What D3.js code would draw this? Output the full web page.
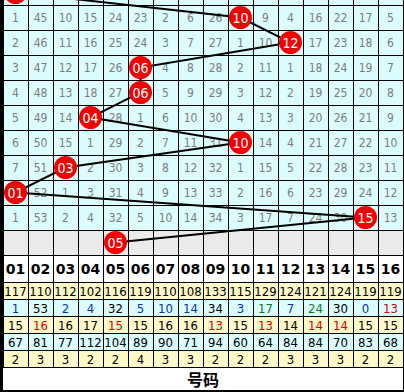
<!DOCTYPE html>
<html>
<head>
<meta charset="utf-8">
<script src="https://cdn.jsdelivr.net/npm/d3@7"></script>
<style>
  body { margin: 0; background: #fff; }
  svg { display: block; }
</style>
</head>
<body>
<script>
var columns = ["01","02","03","04","05","06","07","08","09","10","11","12","13","14","15","16"];

// winning number per draw row (first row is cut off at the top, last one is the gray row)
var draws = [1, 10, 12, 6, 6, 4, 10, 3, 1, 15, 5];

// miss values of the visible draw rows, null where the ball sits
var missRows = [
  [1,45,10,15,24,23,2,6,26,null,9,4,16,22,17,5],
  [2,46,11,16,25,24,3,7,27,1,10,null,17,23,18,6],
  [3,47,12,17,26,null,4,8,28,2,11,1,18,24,19,7],
  [4,48,13,18,27,null,5,9,29,3,12,2,19,25,20,8],
  [5,49,14,null,28,1,6,10,30,4,13,3,20,26,21,9],
  [6,50,15,1,29,2,7,11,31,null,14,4,21,27,22,10],
  [7,51,null,2,30,3,8,12,32,1,15,5,22,28,23,11],
  [null,52,1,3,31,4,9,13,33,2,16,6,23,29,24,12],
  [1,53,2,4,32,5,10,14,34,3,17,7,24,30,null,13]
];

var appearCount = [117,110,112,102,116,119,110,108,133,115,129,124,121,124,119,119];
var currentMiss = [1,53,2,4,32,5,10,14,34,3,17,7,24,30,0,13];
var avgMiss     = [15,16,16,17,15,15,16,16,13,15,13,14,14,14,15,15];
var maxMiss     = [67,81,77,112,104,89,90,71,94,60,64,84,84,70,83,68];
var maxStreak   = [2,3,3,2,2,4,3,3,2,2,2,3,3,3,2,2];

var currentMissTone = ["b","k","b","b","k","b","b","b","k","b","g","b","g","k","b","r"];
var avgMissTone     = ["k","r","k","k","r","k","k","k","r","k","r","k","r","r","k","k"];

var footerLabel = "号码";

var width = 404, height = 392;
var toneColor = {k: "#000", b: "#0a2fc0", g: "#0a7a1a", r: "#d80000"};
var cyan = "#dcfdfd", yellow = "#fff8c8", gray = "#ebebeb";

var svg = d3.select("body").append("svg")
  .attr("width", width)
  .attr("height", height);

var x = d3.scaleBand().domain(columns).range([3, 403]);
var y = d3.scaleBand().domain(d3.range(draws.length)).range([-20, 255]);

var statRows = [
  {values: appearCount, bg: yellow},
  {values: currentMiss, bg: cyan, tone: currentMissTone},
  {values: avgMiss, bg: yellow, tone: avgMissTone},
  {values: maxMiss, bg: cyan},
  {values: maxStreak, bg: yellow}
];
var ys = d3.scaleBand().domain(d3.range(statRows.length)).range([282, 367]);

var cx = function(n) { return x(columns[n - 1]) + x.bandwidth() / 2; };
var cy = function(i) { return y(i) + y.bandwidth() / 2; };

// trend area backgrounds
svg.selectAll(".rowbg")
  .data(draws)
  .enter().append("rect")
  .attr("x", 3)
  .attr("y", function(d, i) { return y(i); })
  .attr("width", 400)
  .attr("height", y.bandwidth())
  .attr("fill", function(d, i) { return i == draws.length - 1 ? gray : cyan; });

// header + footer
svg.append("rect").attr("x", 3).attr("y", 255).attr("width", 400).attr("height", 27).attr("fill", "#fff");
svg.selectAll(".statbg")
  .data(statRows)
  .enter().append("rect")
  .attr("x", 3)
  .attr("y", function(d, i) { return ys(i); })
  .attr("width", 400)
  .attr("height", ys.bandwidth())
  .attr("fill", function(d) { return d.bg; });
svg.append("rect").attr("x", 3).attr("y", 367).attr("width", 400).attr("height", 23).attr("fill", "#fff");

// grid lines
var hLines = d3.range(draws.length + 1).map(function(i) { return i < draws.length ? y(i) : 255; })
  .concat([282], statRows.map(function(d, i) { return ys(i) + ys.bandwidth(); }));
svg.selectAll(".hline")
  .data(hLines)
  .enter().append("line")
  .attr("x1", 3).attr("x2", 404)
  .attr("y1", function(d) { return Math.round(d) + 0.5; })
  .attr("y2", function(d) { return Math.round(d) + 0.5; })
  .attr("stroke", "#000");

svg.selectAll(".vline")
  .data(columns.concat(["end"]))
  .enter().append("line")
  .attr("x1", function(d) { return (d == "end" ? 403 : x(d)) + 0.5; })
  .attr("x2", function(d) { return (d == "end" ? 403 : x(d)) + 0.5; })
  .attr("y1", 0).attr("y2", 367)
  .attr("stroke", "#000");

svg.append("line").attr("x1", 403.5).attr("x2", 403.5).attr("y1", 367).attr("y2", 392).attr("stroke", "#000");
svg.append("rect").attr("x", 0).attr("y", 0).attr("width", 3).attr("height", height).attr("fill", "#000");
svg.append("rect").attr("x", 0).attr("y", 390).attr("width", width).attr("height", 2).attr("fill", "#000");

// miss numbers
missRows.forEach(function(row, r) {
  svg.append("g").selectAll("text")
    .data(row)
    .enter().append("text")
    .attr("x", function(d, i) { return x(columns[i]) + x.bandwidth() / 2; })
    .attr("y", cy(r + 1))
    .attr("dy", ".36em")
    .attr("text-anchor", "middle")
    .style("font", "12px 'DejaVu Sans Condensed', 'DejaVu Sans', sans-serif")
    .attr("fill", "#7c7c7c")
    .text(function(d) { return d == null ? "" : d; });
});

// trend line
var line = d3.line()
  .x(function(d) { return cx(d); })
  .y(function(d, i) { return cy(i); });

svg.append("path")
  .attr("d", line(draws))
  .attr("fill", "none")
  .attr("stroke", "#000")
  .attr("stroke-width", 2);

// balls
var ball = svg.selectAll(".ball")
  .data(draws)
  .enter().append("g")
  .attr("transform", function(d, i) { return "translate(" + cx(d) + "," + cy(i) + ")"; });

ball.append("circle")
  .attr("r", 11.5)
  .attr("fill", "#f00000");

ball.append("text")
  .attr("dy", ".36em")
  .attr("text-anchor", "middle")
  .attr("fill", "#fff")
  .style("font", "14px 'DejaVu Sans Condensed', 'DejaVu Sans', sans-serif")
  .text(function(d) { return d3.format("02d")(d); });

// column header
svg.append("g").selectAll("text")
  .data(columns)
  .enter().append("text")
  .attr("x", function(d) { return x(d) + x.bandwidth() / 2; })
  .attr("y", 269)
  .attr("dy", ".36em")
  .attr("text-anchor", "middle")
  .style("font", "bold 14px 'DejaVu Sans', sans-serif")
  .text(function(d) { return d; });

// stats
statRows.forEach(function(s, r) {
  svg.append("g").selectAll("text")
    .data(s.values)
    .enter().append("text")
    .attr("x", function(d, i) { return x(columns[i]) + x.bandwidth() / 2; })
    .attr("y", ys(r) + ys.bandwidth() / 2 + 0.5)
    .attr("dy", ".36em")
    .attr("text-anchor", "middle")
    .style("font", "13px 'DejaVu Sans Condensed', 'DejaVu Sans', sans-serif")
    .attr("fill", function(d, i) { return s.tone ? toneColor[s.tone[i]] : "#000"; })
    .text(function(d) { return d; });
});

svg.append("text")
  .attr("x", 203)
  .attr("y", 380)
  .attr("dy", ".36em")
  .attr("text-anchor", "middle")
  .style("font", "bold 16px 'Noto Sans CJK SC', sans-serif")
  .text(footerLabel);
</script>
</body>
</html>
